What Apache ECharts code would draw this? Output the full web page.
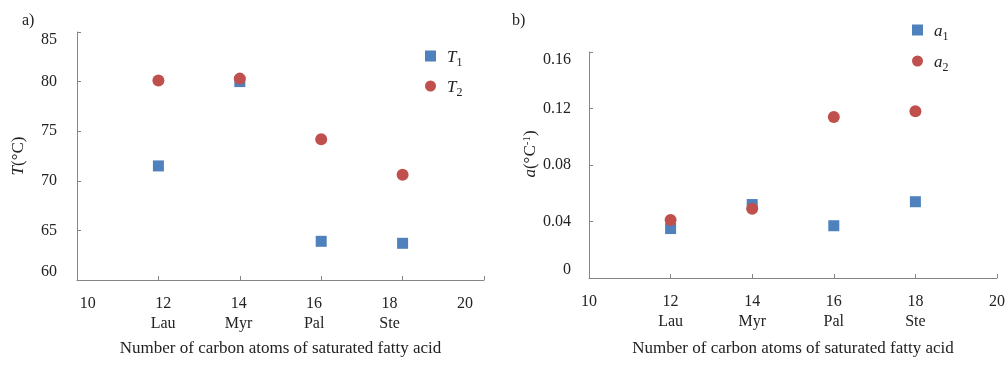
<!DOCTYPE html>
<html>
<head>
<meta charset="utf-8">
<script src="https://cdn.jsdelivr.net/npm/echarts@6/dist/echarts.min.js"></script>
<style>
  html, body { margin: 0; padding: 0; background: #fff; }
  #chart { width: 1008px; height: 365px; }
</style>
</head>
<body>
<div id="chart"></div>
<script>
// Carbon atoms of the saturated fatty acids and their short names
const carbonAtoms = [12, 14, 16, 18];
const acidNames = ['Lau', 'Myr', 'Pal', 'Ste'];
const xTicks = [10, 12, 14, 16, 18, 20];

// Panel a): transition temperatures (°C)
const T1 = [71.5, 80.0, 63.9, 63.7];
const T2 = [80.1, 80.3, 74.2, 70.6];

// Panel b): coefficients (°C^-1)
const a1 = [0.035, 0.052, 0.037, 0.054];
const a2 = [0.041, 0.049, 0.114, 0.118];

const FONT = '"Liberation Serif", "Times New Roman", serif';
const TEXT = '#222';
const AXIS = '#858585';
const BLUE = '#4f81bd';
const RED = '#c0504d';

const pairs = (xs, ys) => xs.map((x, i) => [x, ys[i]]);
const xLabel = v => {
  const k = carbonAtoms.indexOf(v);
  return k >= 0 ? v + '\n' + acidNames[k] : String(v);
};

const subRich = {
  i: { fontFamily: FONT, fontStyle: 'italic', fontSize: 17, color: TEXT, lineHeight: 20, verticalAlign: 'bottom' },
  s: { fontFamily: FONT, fontSize: 12, color: TEXT, lineHeight: 20, verticalAlign: 'bottom', padding: [0, 0, -3, 0] }
};

const axisLineStyle = { lineStyle: { color: AXIS, width: 1 } };
const tickStyle = { show: true, inside: true, length: 4, lineStyle: { color: AXIS } };
const labelBase = { fontFamily: FONT, fontSize: 16, color: TEXT };
const titleFont = { fontFamily: FONT, fontSize: 17, color: TEXT };

const chart = echarts.init(document.getElementById('chart'), null, { renderer: 'canvas' });

chart.setOption({
  backgroundColor: '#fff',
  animation: false,
  title: [
    { text: 'a)', left: 17, top: 8, textStyle: { fontFamily: FONT, fontSize: 16, fontWeight: 'normal', color: TEXT } },
    { text: 'b)', left: 507, top: 8, textStyle: { fontFamily: FONT, fontSize: 16, fontWeight: 'normal', color: TEXT } }
  ],
  legend: [
    {
      data: [{ name: 'T1', icon: 'rect' }, { name: 'T2', icon: 'circle' }],
      orient: 'vertical', left: 420, top: 44, itemWidth: 11, itemHeight: 11, itemGap: 10,
      formatter: n => '{i|T}{s|' + n.slice(1) + '}',
      textStyle: { rich: subRich, padding: [0, 0, 0, 6] }
    },
    {
      data: [{ name: 'a1', icon: 'rect' }, { name: 'a2', icon: 'circle' }],
      orient: 'vertical', left: 907, top: 18, itemWidth: 11, itemHeight: 11, itemGap: 11,
      formatter: n => '{i|a}{s|' + n.slice(1) + '}',
      textStyle: { rich: subRich, padding: [0, 0, 0, 6] }
    }
  ],
  grid: [
    { left: 77, top: 32, width: 407, height: 248 },
    { left: 589, top: 52, width: 408, height: 226 }
  ],
  xAxis: [
    {
      gridIndex: 0, type: 'value', min: 10, max: 20, interval: 2, position: 'bottom',
      axisLine: axisLineStyle, axisTick: tickStyle, splitLine: { show: false },
      axisLabel: { show: false },
      name: 'Number of carbon atoms of saturated fatty acid', nameLocation: 'middle', nameGap: 60,
      nameTextStyle: titleFont
    },
    {
      // label scale for the left panel: tick labels sit on a slightly narrower spacing
      gridIndex: 0, type: 'value', min: 9.717, max: 20.502, position: 'bottom',
      axisLine: { show: false }, axisTick: { show: false }, splitLine: { show: false },
      axisLabel: Object.assign({ customValues: xTicks, formatter: xLabel, lineHeight: 20, margin: 14 }, labelBase)
    },
    {
      gridIndex: 1, type: 'value', min: 10, max: 20, interval: 2, position: 'bottom',
      axisLine: axisLineStyle, axisTick: tickStyle, splitLine: { show: false },
      axisLabel: Object.assign({ formatter: xLabel, lineHeight: 20, margin: 14 }, labelBase),
      name: 'Number of carbon atoms of saturated fatty acid', nameLocation: 'middle', nameGap: 62,
      nameTextStyle: titleFont
    }
  ],
  yAxis: [
    {
      gridIndex: 0, type: 'value', min: 60, max: 85, interval: 5,
      axisLine: Object.assign({ show: true }, axisLineStyle), axisTick: tickStyle, splitLine: { show: false },
      axisLabel: Object.assign({ margin: 20, verticalAlignMaxLabel: 'top', verticalAlignMinLabel: 'bottom' }, labelBase),
      name: '{i|T}(°C)', nameLocation: 'middle', nameGap: 50, nameRotate: 90,
      nameTextStyle: Object.assign({
        rich: { i: { fontFamily: FONT, fontStyle: 'italic', fontSize: 17, color: TEXT } }
      }, titleFont)
    },
    {
      gridIndex: 1, type: 'value', min: 0, max: 0.16, interval: 0.04,
      axisLine: Object.assign({ show: true }, axisLineStyle), axisTick: tickStyle, splitLine: { show: false },
      axisLabel: Object.assign({
        margin: 18, verticalAlignMaxLabel: 'top', verticalAlignMinLabel: 'bottom',
        formatter: v => (v === 0 ? '0' : v.toFixed(2))
      }, labelBase),
      name: '{i|a}(°C{s|-1})', nameLocation: 'middle', nameGap: 48, nameRotate: 90,
      nameTextStyle: Object.assign({
        padding: [0, 0, 0, 22],
        rich: {
          i: { fontFamily: FONT, fontStyle: 'italic', fontSize: 17, color: TEXT },
          s: { fontFamily: FONT, fontSize: 11, color: TEXT, verticalAlign: 'top' }
        }
      }, titleFont)
    }
  ],
  series: [
    { name: 'T1', type: 'scatter', xAxisIndex: 0, yAxisIndex: 0, symbol: 'rect', symbolSize: 11,
      itemStyle: { color: BLUE, opacity: 1 }, data: pairs(carbonAtoms, T1) },
    { name: 'T2', type: 'scatter', xAxisIndex: 0, yAxisIndex: 0, symbol: 'circle', symbolSize: 12,
      itemStyle: { color: RED, opacity: 1 }, data: pairs(carbonAtoms, T2) },
    { name: 'a1', type: 'scatter', xAxisIndex: 2, yAxisIndex: 1, symbol: 'rect', symbolSize: 11,
      itemStyle: { color: BLUE, opacity: 1 }, data: pairs(carbonAtoms, a1) },
    { name: 'a2', type: 'scatter', xAxisIndex: 2, yAxisIndex: 1, symbol: 'circle', symbolSize: 12,
      itemStyle: { color: RED, opacity: 1 }, data: pairs(carbonAtoms, a2) }
  ]
});
</script>
</body>
</html>
